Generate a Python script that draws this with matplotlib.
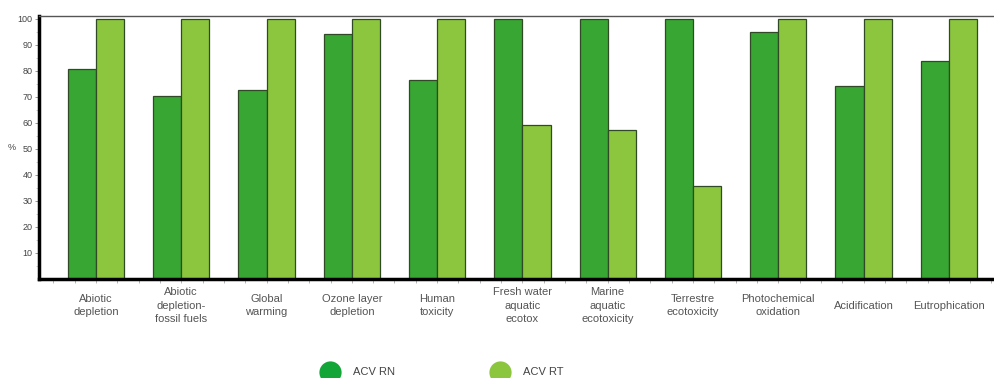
import matplotlib
matplotlib.use("Agg")
import matplotlib.pyplot as plt
import numpy as np
from matplotlib.lines import Line2D

categories = [
    "Abiotic\ndepletion",
    "Abiotic\ndepletion-\nfossil fuels",
    "Global\nwarming",
    "Ozone layer\ndepletion",
    "Human\ntoxicity",
    "Fresh water\naquatic\necotox",
    "Marine\naquatic\necotoxicity",
    "Terrestre\necotoxicity",
    "Photochemical\noxidation",
    "Acidification",
    "Eutrophication",
]
acv_rn = [80.8, 70.3, 72.5, 94.1, 76.3, 100, 100, 100, 94.9, 74.2, 83.7]
acv_rt = [100, 100, 100, 100, 100, 59.0, 57.1, 35.6, 100, 100, 100]
series_names = ["ACV RN", "ACV RT"]
y_ticks = [10, 20, 30, 40, 50, 60, 70, 80, 90, 100]

W, H = 995, 378
fig = plt.figure(figsize=(W / 100, H / 100), dpi=100)
plt.rcParams["font.family"] = ["Liberation Sans", "DejaVu Sans"]

left, right, top, bottom = 39, 1000, 15.7, 278.5
ax = fig.add_axes([left / W, 1 - bottom / H, (right - left) / W, (bottom - top) / H])

x = np.arange(len(categories))
bw = 0.33
c_rn = "#38a632"
c_rt = "#8cc63e"
edge = "#2f4a25"
ax.bar(x - bw / 2, acv_rn, bw, color=c_rn, edgecolor=edge, linewidth=0.9, zorder=2)
ax.bar(x + bw / 2, acv_rt, bw, color=c_rt, edgecolor=edge, linewidth=0.9, zorder=2)

ax.set_xlim(-0.668, 10.6)
ax.set_ylim(0, 101.2)

ax.spines["right"].set_visible(False)
ax.spines["top"].set_color("#555555")
ax.spines["top"].set_linewidth(1.0)
ax.spines["left"].set_color("black")
ax.spines["left"].set_linewidth(2.5)
ax.spines["bottom"].set_color("black")
ax.spines["bottom"].set_linewidth(2.5)

ax.set_yticks(y_ticks)
ax.set_yticklabels([str(v) for v in y_ticks], fontsize=6.5, color="#444444")
ax.set_yticks(np.arange(5, 100, 5), minor=True)
ax.tick_params(axis="y", which="major", length=3, width=0.6, color="#888888", pad=1.5)
ax.tick_params(axis="y", which="minor", length=2, width=0.5, color="#bbbbbb")

ax.set_xticks(np.arange(-0.5, 10.6, 0.25), minor=True)
ax.set_xticks([])
ax.tick_params(axis="x", which="minor", length=3, width=0.6, color="#aaaaaa", direction="out")

fig.text(12 / W, 1 - 148 / H, "%", fontsize=6.5, color="#444444", ha="center", va="center")

for xi, lab in zip(x, categories):
    ax.annotate(lab, xy=(xi, 0), xycoords="data", xytext=(0, -19.5),
                textcoords="offset points", ha="center", va="center",
                fontsize=8, color="#555555", linespacing=1.4, annotation_clip=False)

# legend markers drawn in figure coordinates
for cx, col, tx, name in [(330, "#13a538", 353, series_names[0]),
                          (500, "#8cc63f", 523, series_names[1])]:
    fig.add_artist(Line2D([cx / W], [1 - 371.5 / H], marker="o", markersize=16,
                          color=col, markeredgewidth=0, linestyle="none"))
    fig.text(tx / W, 1 - 372 / H, name, fontsize=8, color="#444444",
             ha="left", va="center")

fig.savefig("out.png", dpi=100)
